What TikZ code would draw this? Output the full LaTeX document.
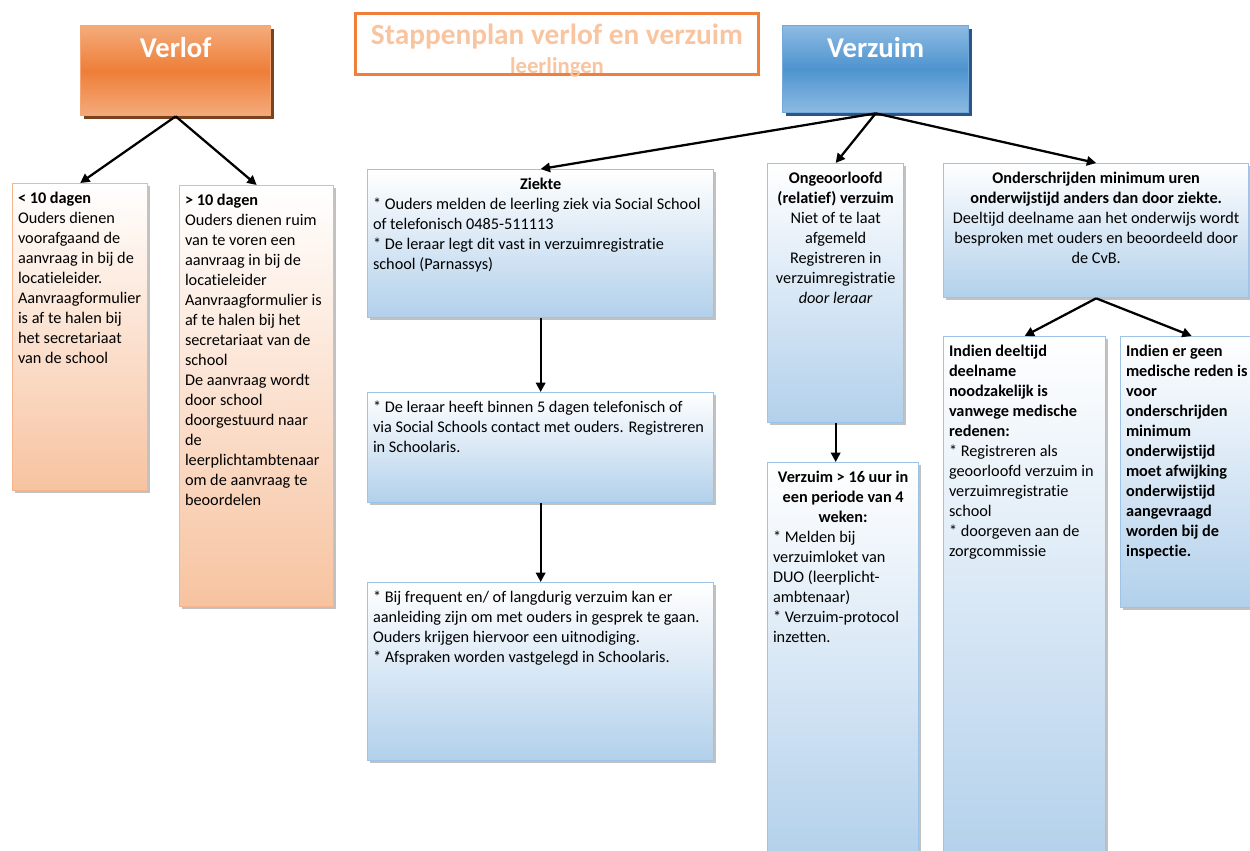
\documentclass[tikz,border=0pt]{standalone}
\usepackage{fontspec}
\setmainfont[Ligatures={NoCommon}]{Carlito}
\usetikzlibrary{arrows.meta, shadows}

\definecolor{titleline}{HTML}{F07F3C}
\definecolor{titletext}{HTML}{F9C4A0}
\definecolor{vlLight}{HTML}{F4AB7C}
\definecolor{vlDark}{HTML}{EE7E38}
\definecolor{vlEdge}{HTML}{F5A673}
\definecolor{vlShadow}{HTML}{7A4320}
\definecolor{vzLight}{HTML}{8DBBE3}
\definecolor{vzDark}{HTML}{4E93CF}
\definecolor{vzEdge}{HTML}{74A9DA}
\definecolor{vzShadow}{HTML}{2A5785}
\definecolor{orEdge}{HTML}{F6B58C}
\definecolor{orFill}{HTML}{F7C3A0}
\definecolor{blEdge}{HTML}{9DC3E6}
\definecolor{blFill}{HTML}{B2D0EB}

% box text: width and height in pixels of the reference
\newcommand{\boxtxt}[3]{\parbox[t][\dimexpr#2pt*3/4-12pt\relax][t]{\dimexpr#1pt*3/4-8pt\relax}{\raggedright #3}}

\begin{document}
\begin{tikzpicture}[
    x=0.75pt, y=-0.75pt,
    >={Triangle[length=7pt, width=7pt]},
    txt/.style={rectangle, anchor=north west, inner xsep=4pt, inner ysep=6pt,
      font=\fontsize{12.2}{15}\selectfont},
    head/.style={txt, text=white, font=\fontsize{21.5}{24}\selectfont\bfseries,
      line width=1pt},
    verlofhead/.style={head, draw=vlEdge, top color=vlLight, bottom color=vlLight,
      middle color=vlDark,
      drop shadow={shadow xshift=2.5pt, shadow yshift=-2.5pt, fill=vlShadow, opacity=1}},
    verzuimhead/.style={head, draw=vzEdge, top color=vzLight, bottom color=vzLight,
      middle color=vzDark,
      drop shadow={shadow xshift=2.5pt, shadow yshift=-2.5pt, fill=vzShadow, opacity=1}},
    obox/.style={txt, draw=orEdge, line width=1pt, top color=white, bottom color=orFill,
      drop shadow={shadow xshift=2pt, shadow yshift=-2pt, fill=black!35, opacity=0.7}},
    bbox/.style={txt, draw=blEdge, line width=1pt, top color=white, bottom color=blFill,
      drop shadow={shadow xshift=2pt, shadow yshift=-2pt, fill=black!35, opacity=0.7}},
    link/.style={->, line width=1.7pt}
  ]

  \useasboundingbox (0,0) rectangle (1250,850);

  % Title
  \node[txt, draw=titleline, line width=2.2pt, text=titletext, inner ysep=5pt] (title) at (354,12)
    {\boxtxt{403}{64}{\centering\vspace*{3pt}{\fontsize{22}{24}\selectfont\bfseries Stappenplan verlof en verzuim}\\[5.5pt]
      {\fontsize{17}{18}\selectfont\bfseries leerlingen}}};

  % Headers
  \node[verlofhead] (verlof) at (80,25) {\boxtxt{190}{90}{\centering\vspace*{3pt}Verlof}};
  \node[verzuimhead] (verzuim) at (782,25) {\boxtxt{186}{87}{\centering\vspace*{3pt}Verzuim}};

  % Verlof
  \node[obox] (kort) at (12,183) {\boxtxt{135}{307}{\textbf{< 10 dagen}\\
    Ouders dienen\\voorafgaand de\\aanvraag in bij de\\locatieleider.\\
    Aanvraagformulier\\is af te halen bij\\het secretariaat\\van de school}};
  \node[obox] (lang) at (179,185) {\boxtxt{154}{421}{\textbf{> 10 dagen}\\
    Ouders dienen ruim\\van te voren een\\aanvraag in bij de\\locatieleider\\
    Aanvraagformulier is\\af te halen bij het\\secretariaat van de\\school\\
    De aanvraag wordt\\door school\\doorgestuurd naar\\de\\leerplichtambtenaar\\
    om de aanvraag te\\beoordelen}};

  % Ziekte
  \node[bbox] (ziekte) at (367,169) {\boxtxt{346}{148}{{\centering\textbf{Ziekte}\par}
    * Ouders melden de leerling ziek via Social School\\of telefonisch 0485-511113\\{}%
    * De leraar legt dit vast in verzuimregistratie\\school (Parnassys)}};
  \node[bbox] (contact) at (367,392) {\boxtxt{346}{110}{* De leraar heeft binnen 5 dagen telefonisch of\\
    via Social Schools contact met ouders. Registreren\\in Schoolaris.}};
  \node[bbox] (gesprek) at (367,582) {\boxtxt{346}{178}{* Bij frequent en/ of langdurig verzuim kan er\\
    aanleiding zijn om met ouders in gesprek te gaan.\\Ouders krijgen hiervoor een uitnodiging.\\{}%
    * Afspraken worden vastgelegd in Schoolaris.}};

  % Ongeoorloofd
  \node[bbox] (ongeoorloofd) at (767,163) {\boxtxt{136}{259}{\centering
    \textbf{Ongeoorloofd}\\\textbf{(relatief) verzuim}\\Niet of te laat\\afgemeld\\
    Registreren in\\verzuimregistratie\\\textit{door leraar}}};
  \node[bbox] (zestien) at (767,462) {\boxtxt{151}{400}{{\centering
    \textbf{Verzuim > 16 uur in}\\\textbf{een periode van 4}\\\textbf{weken:}\par}
    * Melden bij\\verzuimloket van\\DUO (leerplicht-\\ambtenaar)\\{}%
    * Verzuim-protocol\\inzetten.}};

  % Onderschrijden
  \node[bbox] (onder) at (943,163) {\boxtxt{305}{134}{\centering
    \textbf{Onderschrijden minimum uren}\\\textbf{onderwijstijd anders dan door ziekte.}\\
    Deeltijd deelname aan het onderwijs wordt\\besproken met ouders en beoordeeld door\\de CvB.}};
  \node[bbox] (medisch) at (943,336) {\boxtxt{162}{530}{\textbf{Indien deeltijd}\\
    \textbf{deelname}\\\textbf{noodzakelijk is}\\\textbf{vanwege medische}\\\textbf{redenen:}\\{}%
    * Registreren als\\geoorloofd verzuim in\\verzuimregistratie\\school\\{}%
    * doorgeven aan de\\zorgcommissie}};
  \node[bbox] (geenreden) at (1120,336) {\boxtxt{142}{271}{\bfseries Indien er geen\\
    medische reden is\\voor\\onderschrijden\\minimum\\onderwijstijd\\moet afwijking\\
    onderwijstijd\\aangevraagd\\worden bij de\\inspectie.}};

  % Connections
  \draw[link] (verlof.south) -- (kort.north);
  \draw[link] (verlof.south) -- (lang.north);
  \draw[link] (verzuim.south) -- (ziekte.north);
  \draw[link] (verzuim.south) -- (ongeoorloofd.north);
  \draw[link] (verzuim.south) -- (onder.north);
  \draw[link] (ziekte.south) -- (contact.north);
  \draw[link] (contact.south) -- (gesprek.north);
  \draw[link] (ongeoorloofd.south) -- (ongeoorloofd.south |- zestien.north);
  \draw[link] (onder.south) -- (medisch.north);
  \draw[link] (onder.south) -- (geenreden.north);

\end{tikzpicture}
\end{document}
